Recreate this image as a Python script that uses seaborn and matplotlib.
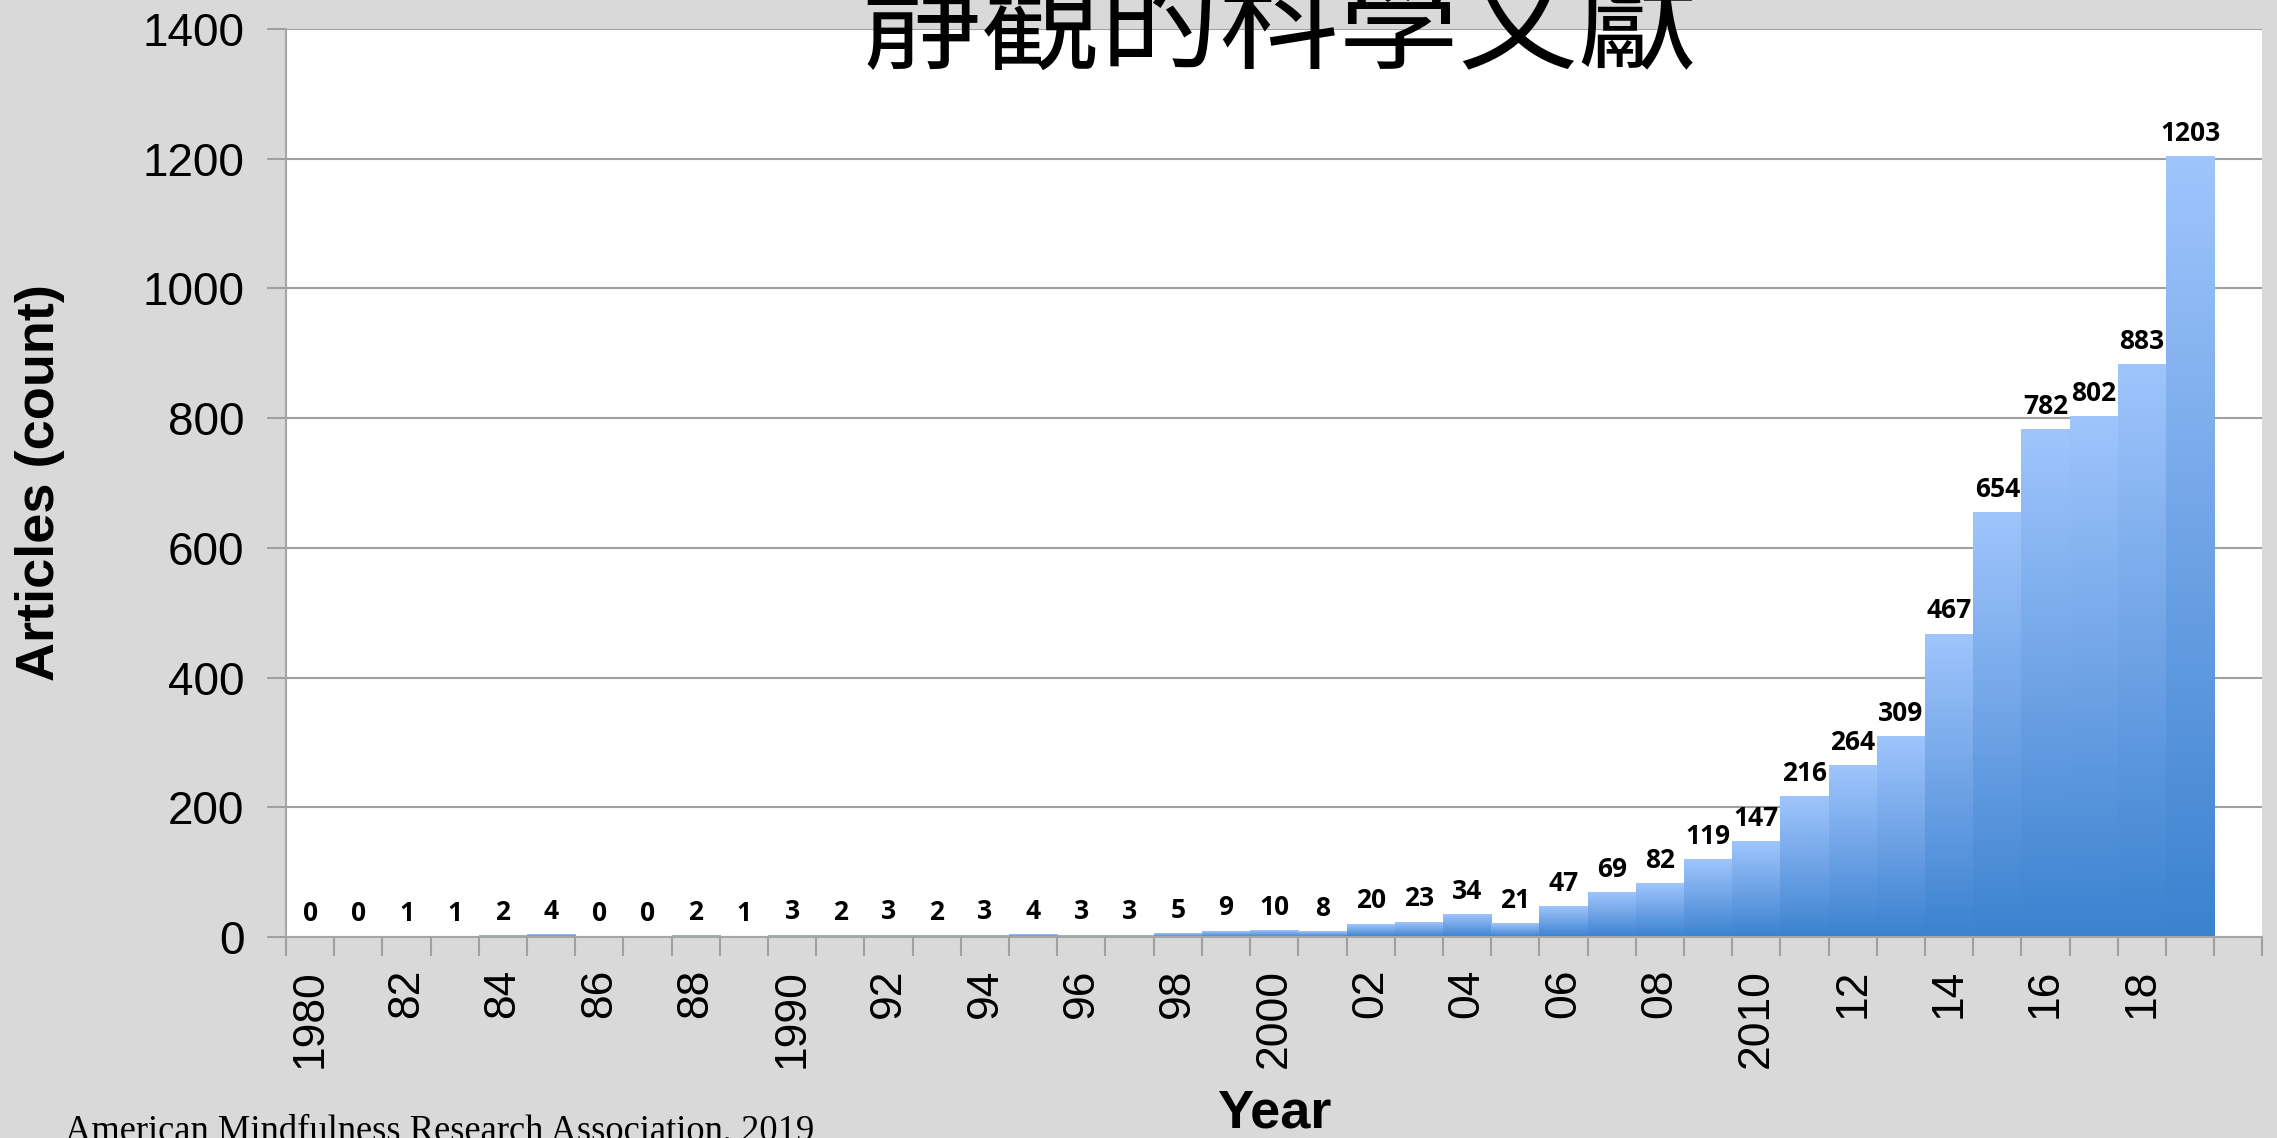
import numpy as np
import pandas as pd
import matplotlib
matplotlib.use("Agg")
import matplotlib.pyplot as plt
from matplotlib.colors import LinearSegmentedColormap
import seaborn as sns

# articles per year, 1980-2019
years = [str(y) for y in range(1980, 2020)]
counts = [0, 0, 1, 1, 2, 4, 0, 0, 2, 1,
          3, 2, 3, 2, 3, 4, 3, 3, 5, 9,
          10, 8, 20, 23, 34, 21, 47, 69, 82, 119,
          147, 216, 264, 309, 467, 654, 782, 802, 883, 1203]
# one empty slot after the last year
order = years + ["2020"]
tick_labels = ["1980", "82", "84", "86", "88", "1990", "92", "94", "96", "98",
               "2000", "02", "04", "06", "08", "2010", "12", "14", "16", "18"]

title = "靜觀的科學文獻"
source = "American Mindfulness Research Association, 2019"

sns.set_theme(style="white")
plt.rcParams["font.family"] = ["Liberation Sans", "Noto Sans CJK TC", "DejaVu Sans"]

df = pd.DataFrame({"year": years, "count": counts})

fig = plt.figure(figsize=(22.77, 11.38), dpi=100, facecolor="#d9d9d9")
ax = fig.add_axes([0.1256, 0.1766, 0.868, 0.798])
ax.set_facecolor("white")

sns.barplot(data=df, x="year", y="count", order=order, width=1.0,
            color="#8db8f0", saturation=1, errorbar=None, ax=ax, zorder=2)

# vertical gradient in every bar: light top, darker bottom
cmap = LinearSegmentedColormap.from_list("bars", ["#3b82cf", "#6fa3e6", "#9fc5fc"])
grad = np.linspace(0, 1, 256).reshape(-1, 1)
for p in ax.patches:
    h = p.get_height()
    if h > 0:
        x0 = p.get_x()
        ax.imshow(grad, cmap=cmap, origin="lower", aspect="auto",
                  extent=(x0, x0 + p.get_width(), 0, h), zorder=2)
    p.set_facecolor("none")
    p.set_edgecolor("none")

ax.bar_label(ax.containers[0], fmt="%d", padding=7, fontsize=19,
             fontweight="bold", family="Open Sans", color="black")

ax.set_xlim(-0.5, len(order) - 0.5)
ax.set_ylim(0, 1400)
ax.set_yticks(range(0, 1401, 200))
ax.grid(axis="y", color="#a0a0a0", linewidth=1.5, zorder=0)
ax.set_axisbelow(True)

ax.set_xticks(range(0, 40, 2))
ax.set_xticklabels(tick_labels, rotation=90, fontsize=32)
ax.set_xticks(np.arange(-0.5, len(order)), minor=True)
ax.tick_params(axis="x", which="major", length=0, pad=23, colors="black")
ax.tick_params(axis="x", which="minor", length=14, width=1.5,
               color="#a0a0a0", bottom=True)
ax.tick_params(axis="y", length=14, width=1.5, color="#a0a0a0",
               left=True, pad=16, labelsize=33, labelcolor="black")

for side in ["top", "right"]:
    ax.spines[side].set_visible(False)
for side in ["left", "bottom"]:
    ax.spines[side].set_color("#a6a6a6")
    ax.spines[side].set_linewidth(1.5)

ax.set_xlabel("Year", fontsize=39, fontweight="bold", color="black")
ax.xaxis.set_label_coords(0.5, -0.167)
ax.set_ylabel("Articles (count)", fontsize=39, fontweight="bold", color="black")
ax.yaxis.set_label_coords(-0.112, 0.5)

# title sits partly above the top edge, as on the slide
fig.text(0.562, 0.947, title, ha="center", va="baseline", fontsize=86,
         fontweight="light", family=["Noto Sans CJK TC", "DejaVu Sans"],
         color="black")
fig.text(0.0285, -0.002, source, ha="left", va="baseline", fontsize=26.3,
         family="Liberation Serif", color="black")

fig.savefig("out.png", dpi=100, facecolor=fig.get_facecolor())
